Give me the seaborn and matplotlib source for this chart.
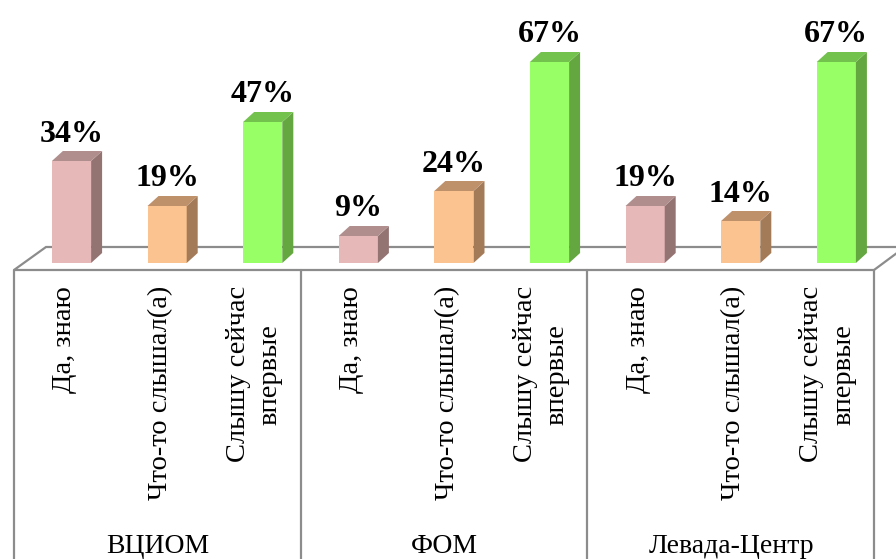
import pandas as pd
import matplotlib
matplotlib.use('Agg')
import matplotlib.pyplot as plt
import matplotlib.transforms as mtransforms
from matplotlib.patches import Polygon
import seaborn as sns

# data
groups = ['ВЦИОМ', 'ФОМ', 'Левада-Центр']
answers = ['Да, знаю', 'Что-то слышал(а)', 'Слышу сейчас\nвпервые']
vciom = [34, 19, 47]
fom = [9, 24, 67]
levada = [19, 14, 67]

front_colors = ['#e6b9b8', '#fac38f', '#99ff66']
top_colors = ['#b08e8d', '#bf916b', '#73c24e']
side_colors = ['#947473', '#a47b59', '#64a63f']
line_color = '#8c8c8c'

rows = []
for g, vals in zip(groups, [vciom, fom, levada]):
    for a, v in zip(answers, vals):
        rows.append({'group': g, 'answer': a, 'value': v, 'slot': g + ' | ' + a})
df = pd.DataFrame(rows)

sns.set_theme(style='white')
plt.rcParams['font.family'] = ['Liberation Serif', 'DejaVu Serif']

W, H = 896, 559
fig = plt.figure(figsize=(W / 100, H / 100), dpi=100)

# background axes in pixel units for the 3D floor
bg = fig.add_axes([0, 0, 1, 1])
bg.set_xlim(0, W)
bg.set_ylim(H, 0)
bg.axis('off')
floor = Polygon([(14, 270), (874, 270), (905, 247), (46, 247)], closed=True,
                facecolor='white', edgecolor=line_color, linewidth=1.6)
bg.add_patch(floor)
for xd in [14, 301, 587, 874]:
    bg.plot([xd, xd], [270, H + 5], color=line_color, linewidth=1.6)

# main axes for the bars
ax = fig.add_axes([23.7 / W, 296 / H, 860.4 / W, 261 / H])
sns.barplot(data=df, x='slot', y='value', hue='answer', palette=front_colors,
            dodge=False, width=0.41, legend=False, saturation=1, linewidth=0, ax=ax)
ax.set_xlim(-0.5, 8.5)
ax.set_ylim(0, 87)
ax.axis('off')

# fake depth: side and top faces of each bar
dx, dy = 11, 10
inv = ax.transData.inverted()
for p in ax.patches[:]:
    if p.get_height() <= 0:
        continue
    x0, y0 = p.get_x(), p.get_y()
    x1, y1 = x0 + p.get_width(), y0 + p.get_height()
    k = int(round((x0 + x1) / 2)) % 3
    (px0, py0), (px1, py1) = ax.transData.transform([(x0, y0), (x1, y1)])
    side = [(px1, py0), (px1 + dx, py0 + dy), (px1 + dx, py1 + dy), (px1, py1)]
    top = [(px0, py1), (px0 + dx, py1 + dy), (px1 + dx, py1 + dy), (px1, py1)]
    ax.add_patch(Polygon(inv.transform(side), facecolor=side_colors[k], linewidth=0, clip_on=False))
    ax.add_patch(Polygon(inv.transform(top), facecolor=top_colors[k], linewidth=0, clip_on=False))
    ax.annotate(f'{p.get_height():.0f}%', ((x0 + x1) / 2, y1), xytext=(0, 9),
                textcoords='offset points', ha='center', va='bottom',
                fontsize=23, fontweight='bold', color='black', annotation_clip=False)

# category and group labels under the floor
blend = mtransforms.blended_transform_factory(ax.transData, fig.transFigure)
for i, row in df.iterrows():
    shift = -0.09 if '\n' in row['answer'] else -0.07
    ax.text(i + shift, 1 - 286 / H, row['answer'], transform=blend, rotation=90,
            ha='center', va='top', fontsize=20.5, color='black', linespacing=1.35)
for g, name in enumerate(groups):
    ax.text(3 * g + 0.9, 1 - 553 / H, name, transform=blend, ha='center',
            va='baseline', fontsize=20, color='black')

fig.savefig('out.png', dpi=100)
